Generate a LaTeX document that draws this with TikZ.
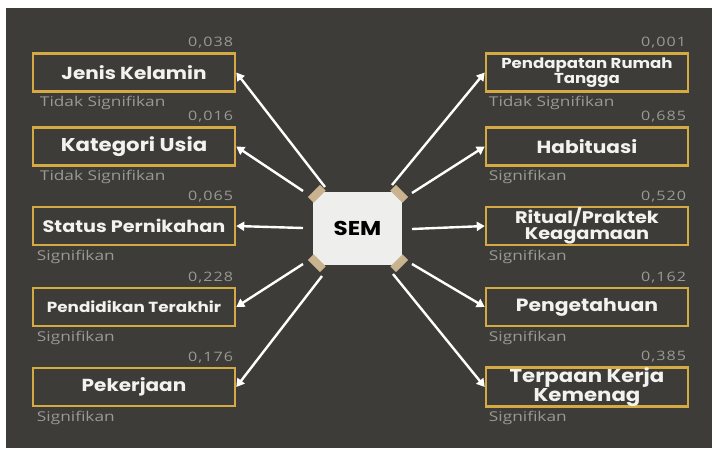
\documentclass[tikz,border=0pt]{standalone}
\usepackage{fontspec}
\setmainfont{Open Sans}
\newfontfamily\boxfont[FakeStretch=1.15]{Poppins}
\newfontfamily\lblfont[FakeStretch=1.28]{Open Sans}
\newfontfamily\numfont[FakeStretch=1.24,LetterSpace=8]{Open Sans}
\usetikzlibrary{arrows.meta,calc}
\definecolor{bg}{HTML}{3D3C38}
\definecolor{gold}{HTML}{D6AA42}
\definecolor{lbl}{HTML}{9A9A95}
\definecolor{txt}{HTML}{F2F2EE}
\definecolor{paper}{HTML}{EEEEEC}
\definecolor{tapec}{HTML}{C9B38E}
\tikzset{
  varbox/.style={draw=gold, line width=2.5pt, minimum width=202pt, minimum height=38pt, inner sep=0pt, text=txt, align=center},
  num/.style={text=lbl, font=\numfont\fontsize{13}{13}\selectfont, inner sep=0pt, anchor=base east},
  sig/.style={text=lbl, font=\lblfont\fontsize{13.5}{13.5}\selectfont, inner sep=0pt, anchor=base west},
  arr/.style={draw=white, line width=2.4pt, -{Triangle[width=9pt,length=8pt]}},
  tapebox/.style={fill=tapec, minimum width=17pt, minimum height=8pt, inner sep=0pt},
}
\newcommand{\bx}[2]{\boxfont\bfseries\fontsize{#1}{#2}\selectfont}
\begin{document}
\begin{tikzpicture}[x=1pt,y=-1pt]
\fill[white] (0,0) rectangle (712,448);
\fill[bg] (6,8) rectangle (712,448);
\useasboundingbox (0,0) rectangle (712,448);
% left boxes
\node[varbox, font=\bx{17.4}{17}] (jk) at (134,72.5) {Jenis Kelamin};
\node[varbox, font=\bx{18.5}{17}] (ku) at (134,146.5) {Kategori Usia};
\node[varbox, font=\bx{16.7}{16}] (sp) at (134,226) {Status Pernikahan};
\node[varbox, font=\bx{14.6}{15}] (pt) at (134,307) {Pendidikan Terakhir};
\node[varbox, font=\bx{17.4}{17}] (pk) at (134,387) {Pekerjaan};
% right boxes
\node[varbox, font=\bx{14.4}{12.5}] (pr) at (587,72.5) {Pendapatan Rumah\\Tangga};
\node[varbox, font=\bx{17.5}{17}] (hb) at (587,146.5) {Habituasi};
\node[varbox, font=\bx{16.8}{16}] (rp) at (587,226) {Ritual/Praktek\\Keagamaan};
\node[varbox, font=\bx{17.7}{17}] (pg) at (587,307) {Pengetahuan};
\node[varbox, font=\bx{18.5}{16}] (tk) at (587,387) {Terpaan Kerja\\Kemenag};
% numbers
\foreach \b/\v in {jk/0{,}038, ku/0{,}016, sp/0{,}065, pt/0{,}228, pk/0{,}176, pr/0{,}001, hb/0{,}685, rp/0{,}520, pg/0{,}162, tk/0{,}385}{
  \node[num] (n\b) at ($(\b.north east)+(-3,-5.5)$) {\v};
}
% significance
\node[sig] (sjk) at ($(jk.south west)+(8,14)$) {Tidak Signifikan};
\node[sig] (sku) at ($(ku.south west)+(8,14)$) {Tidak Signifikan};
\node[sig] (ssp) at ($(sp.south west)+(5,14)$) {Signifikan};
\node[sig] (spt) at ($(pt.south west)+(5,14)$) {Signifikan};
\node[sig] (spk) at ($(pk.south west)+(5,14)$) {Signifikan};
\node[sig] (spr) at ($(pr.south west)+(4,14)$) {Tidak Signifikan};
\node[sig] (shb) at ($(hb.south west)+(4,14)$) {Signifikan};
\node[sig] (srp) at ($(rp.south west)+(4,14)$) {Signifikan};
\node[sig] (spg) at ($(pg.south west)+(4,14)$) {Signifikan};
\node[sig] (stk) at ($(tk.south west)+(4,14)$) {Signifikan};
% arrow start points
\coordinate (a1) at (325,187);
\coordinate (a2) at (303,191);
\coordinate (a3) at (303,228);
\coordinate (a4) at (303,264);
\coordinate (a5) at (322,276);
\coordinate (b1) at (392,185);
\coordinate (b2) at (412,193);
\coordinate (b3) at (412,229);
\coordinate (b4) at (412,264);
\coordinate (b5) at (393,274);
\draw[arr] (a1) -- (jk.east);
\draw[arr] (a2) -- (ku.east);
\draw[arr] (a3) -- (sp.east);
\draw[arr] (a4) -- (pt.east);
\draw[arr] (a5) -- (pk.east);
\draw[arr] (b1) -- (pr.west);
\draw[arr] (b2) -- (hb.west);
\draw[arr] (b3) -- (rp.west);
\draw[arr] (b4) -- (pg.west);
\draw[arr] (b5) -- (tk.west);
% SEM paper
\node[fill=paper, minimum width=89pt, minimum height=73pt, inner sep=0pt, font=\bx{20}{20}, text=black] (sem) at (357.5,228.5) {SEM};
\node[tapebox, rotate=45] (t1) at ($(sem.north west)+(4,2)$) {};
\node[tapebox, rotate=-45] (t2) at ($(sem.north east)+(-3,2)$) {};
\node[tapebox, rotate=-45] (t3) at ($(sem.south west)+(4,-2)$) {};
\node[tapebox, rotate=45] (t4) at ($(sem.south east)+(-3,-2)$) {};
\end{tikzpicture}
\end{document}
